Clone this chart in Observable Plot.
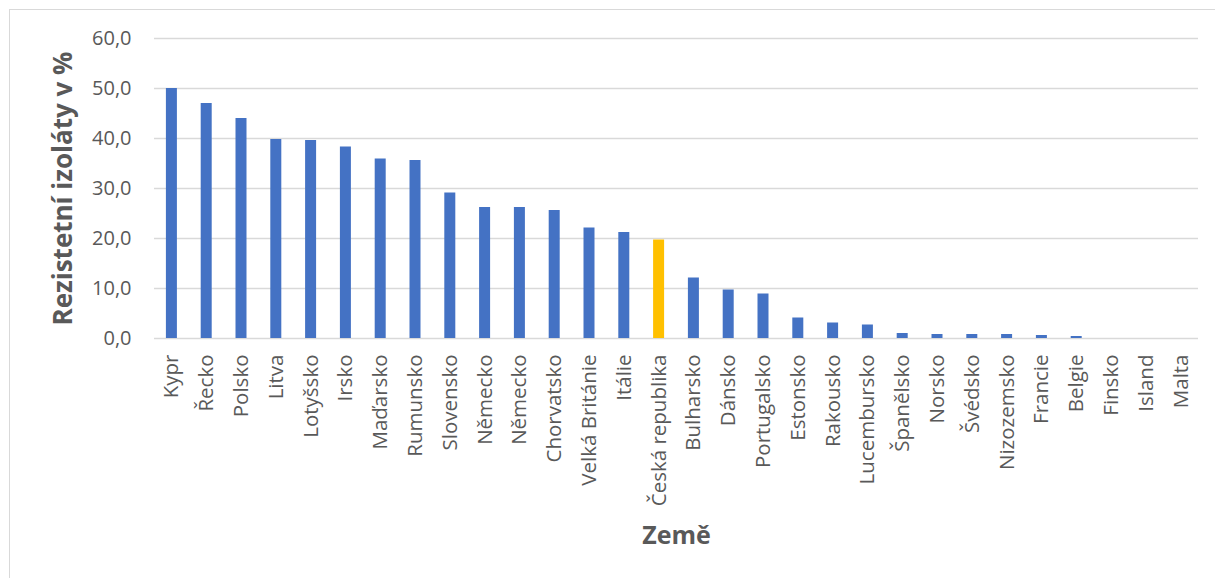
<!DOCTYPE html>
<html>
<head>
<meta charset="utf-8">
<script src="https://cdn.jsdelivr.net/npm/d3@7"></script>
<script src="https://cdn.jsdelivr.net/npm/@observablehq/plot@0.6"></script>
<style>
  html, body { margin: 0; padding: 0; background: #fff; }
  #wrap { position: relative; width: 1215px; height: 578px; overflow: hidden; }
  #frame { position: absolute; left: 9px; top: 9px; width: 1230px; height: 600px; border: 1px solid #d9d9d9; box-sizing: border-box; }
  #chart { position: absolute; left: 0; top: 0; }
</style>
</head>
<body>
<div id="wrap"><div id="frame"></div><div id="chart"></div></div>
<script>
const countries = ["Kypr","Řecko","Polsko","Litva","Lotyšsko","Irsko","Maďarsko","Rumunsko","Slovensko","Německo","Německo","Chorvatsko","Velká Británie","Itálie","Česká republika","Bulharsko","Dánsko","Portugalsko","Estonsko","Rakousko","Lucembursko","Španělsko","Norsko","Švédsko","Nizozemsko","Francie","Belgie","Finsko","Island","Malta"];
const values = [50.0,47.0,44.0,39.8,39.6,38.3,35.9,35.6,29.1,26.2,26.2,25.6,22.1,21.2,19.7,12.1,9.7,8.9,4.1,3.1,2.7,1.0,0.8,0.8,0.8,0.6,0.4,0,0,0];
const highlighted = "Česká republika";
const yTicks = [0,10,20,30,40,50,60];
const yTitle = "Rezistetní izoláty v %";
const xTitle = "Země";

const data = countries.map((c, i) => ({i, country: c, value: values[i]}));
const textColor = "#595959";

const chart = Plot.plot({
  width: 1215,
  height: 578,
  marginLeft: 154,
  marginRight: 17,
  marginTop: 38,
  marginBottom: 240,
  style: {fontFamily: "'Open Sans', sans-serif", color: textColor, background: "transparent"},
  x: {domain: d3.range(countries.length), padding: 0, round: false},
  y: {domain: [0, 60]},
  marks: [
    Plot.gridY(yTicks, {stroke: "#d9d9d9", strokeOpacity: 1, strokeWidth: 1.5}),
    Plot.barY(data, {x: "i", y: "value", insetLeft: 11.9, insetRight: 11.9,
      fill: d => d.country === highlighted ? "#FFC000" : "#4472C4"}),
    Plot.axisY(yTicks, {tickSize: 0, tickPadding: 23, fontSize: 20, fill: textColor, label: null,
      tickFormat: d => d.toFixed(1).replace(".", ",")}),
    Plot.axisX({tickSize: 0, tickPadding: 16, tickRotate: -90, fontSize: 20.5, fill: textColor, label: null,
      tickFormat: i => countries[i]}),
    Plot.text([yTitle], {frameAnchor: "left", textAnchor: "middle", dx: -91, rotate: -90, fontSize: 26, fontWeight: "bold", fill: textColor}),
    Plot.text([xTitle], {frameAnchor: "bottom", textAnchor: "middle", dy: 205, fontSize: 25, fontWeight: "bold", fill: textColor})
  ]
});
document.getElementById("chart").appendChild(chart);
</script>
</body>
</html>
